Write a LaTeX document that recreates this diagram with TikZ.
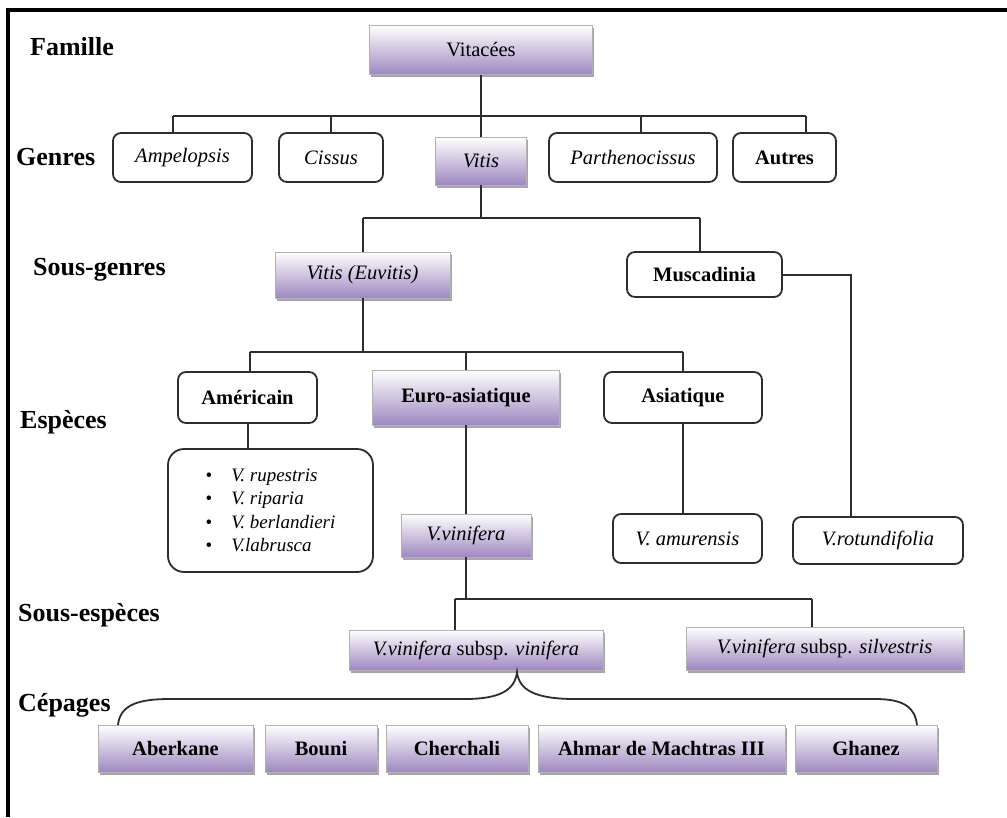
\documentclass[tikz,border=0pt]{standalone}
\usepackage{fontspec}
\setmainfont{Liberation Serif}
\usetikzlibrary{shadows}
\definecolor{pbot}{RGB}{158,136,192}
\definecolor{pmid}{RGB}{226,217,237}
\definecolor{lincol}{RGB}{45,45,45}
\begin{document}
\begin{tikzpicture}[x=1pt,y=-1pt,
  lbl/.style={anchor=west, font=\fontsize{26}{30}\selectfont\bfseries, inner sep=0pt},
  conn/.style={draw=lincol, line width=2pt},
  wbox/.style={draw=lincol, line width=1.8pt, rounded corners=8pt, fill=white, inner sep=0pt,
    font=\fontsize{20.5}{24}\selectfont},
  pbox/.style={draw=gray!60, line width=0.6pt, top color=white, middle color=pmid, bottom color=pbot,
    drop shadow={shadow xshift=1.5pt, shadow yshift=-2.5pt, fill=black, opacity=0.35},
    inner sep=0pt, font=\fontsize{20.5}{24}\selectfont},
  sz/.style 2 args={minimum width=#1pt, minimum height=#2pt},
  cep/.style={pbox, minimum height=47pt, font=\fontsize{20.5}{24}\selectfont\bfseries},
]
\useasboundingbox (0,0) rectangle (1007,817);
\fill[white] (0,0) rectangle (1007,817);
% frame
\draw[line width=4pt, black] (8,817) -- (8,10) -- (1007,10);

% level labels
\node[lbl] (lfam) at (30,47) {Famille};
\node[lbl] (lgen) at (16,157) {Genres};
\node[lbl] (lsg) at (33,270) {Sous-genres};
\node[lbl] (lesp) at (20,422) {Espèces};
\node[lbl] (lse) at (18,615) {Sous-espèces};
\node[lbl] (lcep) at (18,705) {Cépages};

% Famille
\node[pbox, sz={223}{49}] (vit) at (481,50) {Vitacées};

% Genres
\node[wbox, sz={139}{49}] (amp) at (182.5,157.5) {\itshape Ampelopsis};
\node[wbox, sz={104}{49}] (cis) at (331,157.5) {\itshape Cissus};
\node[pbox, sz={91}{48}] (vitis) at (481,161) {\itshape Vitis};
\node[wbox, sz={168}{49}] (par) at (633,157.5) {\itshape Parthenocissus};
\node[wbox, sz={103}{49}] (aut) at (784.5,157.5) {\bfseries Autres};

\coordinate (gL) at (173,116);
\coordinate (gP) at (641,116);
\coordinate (gR) at (806,116);
\draw[conn] (vit.south) -- (vit.south |- gL);
\draw[conn] (gL) -- (gR);
\draw[conn] (gL) -- (gL |- amp.north);
\draw[conn] (cis.north |- gL) -- (cis.north);
\draw[conn] (vit.south |- gL) -- (vitis.north);
\draw[conn] (gP) -- (gP |- par.north);
\draw[conn] (gR) -- (gR |- aut.north);

% Sous-genres
\node[pbox, sz={175}{46}] (euv) at (362.5,275) {\itshape Vitis (Euvitis)};
\node[wbox, sz={155}{45}] (mus) at (704.5,274.5) {\bfseries Muscadinia};

\coordinate (sL) at (363,218);
\coordinate (sR) at (700,218);
\draw[conn] (vitis.south) -- (vitis.south |- sL);
\draw[conn] (sL) -- (sR);
\draw[conn] (sL) -- (sL |- euv.north);
\draw[conn] (sR) -- (sR |- mus.north);

% Especes
\node[wbox, sz={139}{51}] (ame) at (247.5,397.5) {\bfseries Américain};
\node[pbox, sz={187}{55}] (euro) at (466,397.5) {\bfseries Euro-asiatique};
\node[wbox, sz={158}{51}] (asi) at (683,397.5) {\bfseries Asiatique};

\coordinate (eL) at (250,352);
\coordinate (eR) at (683,352);
\draw[conn] (euv.south) -- (euv.south |- eL);
\draw[conn] (eL) -- (eR);
\draw[conn] (eL) -- (eL |- ame.north);
\draw[conn] (euro.north |- eL) -- (euro.north);
\draw[conn] (eR) -- (asi.north);

\node[draw=lincol, line width=1.8pt, rounded corners=16pt, fill=white, inner sep=0pt, sz={205}{123}, align=left, font=\fontsize{19}{23.5}\selectfont] (lst) at (270.5,510.5)
  {\textbullet\quad\textit{V. rupestris}\\
   \textbullet\quad\textit{V. riparia}\\
   \textbullet\quad\textit{V. berlandieri}\\
   \textbullet\quad\textit{V.labrusca}};
\node[pbox, sz={130}{43}] (vvin) at (466,535.5) {\itshape V.vinifera};
\node[wbox, sz={149}{49}] (amu) at (687.5,538.5) {\itshape V. amurensis};
\node[wbox, sz={170}{47}] (rot) at (878,540.5) {\itshape V.rotundifolia};

\draw[conn] (ame.south) -- (ame.south |- lst.north);
\draw[conn] (euro.south) -- (vvin.north);
\draw[conn] (asi.south) -- (asi.south |- amu.north);
\coordinate (mr) at (851,272);
\draw[conn] (mus.east) -- (mus.east -| mr) -- (mr |- rot.north);

% Sous-especes
\node[pbox, sz={254}{40}] (ssv) at (476,650) {\textit{V.vinifera} subsp. \textit{vinifera}};
\node[pbox, sz={277}{43}] (sss) at (824.5,648.5) {\textit{V.vinifera} subsp. \textit{silvestris}};

\coordinate (ssL) at (455,599);
\coordinate (ssR) at (812,599);
\draw[conn] (vvin.south) -- (vvin.south |- ssL);
\draw[conn] (ssL) -- (ssR);
\draw[conn] (ssL) -- (ssL |- ssv.north);
\draw[conn] (ssR) -- (ssR |- sss.north);

% Cepages
\node[cep, minimum width=155pt] (abe) at (175.5,748.5) {Aberkane};
\node[cep, minimum width=112pt] (bou) at (321,748.5) {Bouni};
\node[cep, minimum width=142pt] (che) at (457,748.5) {Cherchali};
\node[cep, minimum width=247pt] (ahm) at (661.5,748.5) {Ahmar de Machtras III};
\node[cep, minimum width=142pt] (gha) at (866,748.5) {Ghanez};

\coordinate (bt) at (517,672);
\coordinate (bl) at (118,725);
\coordinate (br) at (917,725);
\draw[conn, line width=1.8pt] (bl) .. controls (120,704) and (140,699) .. (170,699) -- (465,699)
  .. controls (500,699) and (515,690) .. (bt)
  .. controls (519,690) and (535,699) .. (575,699) -- (875,699)
  .. controls (905,699) and (915,708) .. (br);
\end{tikzpicture}
\end{document}
